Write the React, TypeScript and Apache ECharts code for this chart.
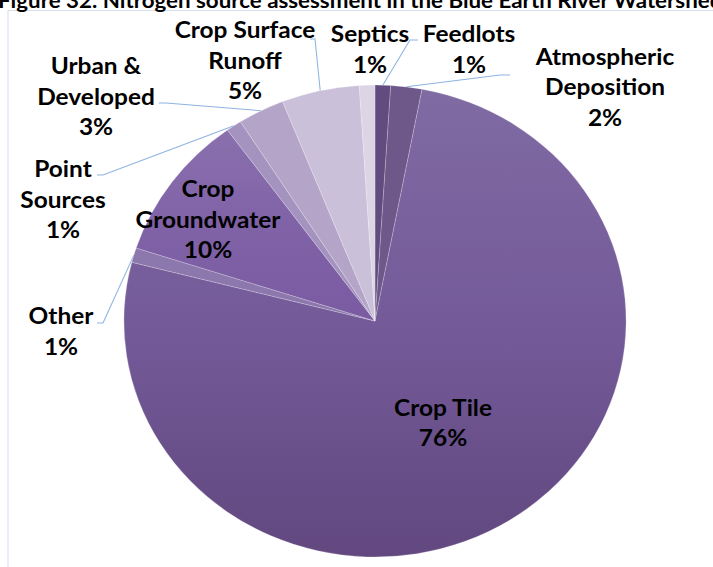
import { useEffect, useRef } from "react";
import * as echarts from "echarts";

// Nitrogen sources, listed clockwise from twelve o'clock
const sources = [
  "Feedlots",
  "Atmospheric\nDeposition",
  "Crop Tile",
  "Other",
  "Crop\nGroundwater",
  "Point\nSources",
  "Urban &\nDeveloped",
  "Crop Surface\nRunoff",
  "Septics",
];
const shares = [1, 2, 76, 1, 10, 1, 3, 5, 1];
const titleText =
  "Figure 32. Nitrogen source assessment in the Blue Earth River Watershed";

// The figure is drawn slightly wider than tall
const STRETCH = 1.064;
const PAGE_W = 713;
const PAGE_H = 567;
const CHART_W = PAGE_W / STRETCH;
const px = (x: number) => x / STRETCH;

const flat = (c: string) => c;
const vgrad = (top: string, mid: string, bottom: string) =>
  new echarts.graphic.LinearGradient(0, 0, 0, 1, [
    { offset: 0, color: top },
    { offset: 0.5, color: mid },
    { offset: 1, color: bottom },
  ]);

const sliceFill = [
  flat("#624c7f"),
  flat("#6d5889"),
  vgrad("#806ba3", "#745a99", "#62487f"),
  flat("#8d78ad"),
  vgrad("#8a70ae", "#8062a7", "#7a5ba2"),
  flat("#a593bf"),
  flat("#b4a5c8"),
  flat("#cac0d9"),
  flat("#dcd5e5"),
];

// Where each label sits (centre of its text block) and the elbow / end of its leader
type Placement = { cx: number; cy: number; inside?: boolean; leader?: number[][] };
const placement: Placement[] = [
  { cx: 469, cy: 49, leader: [[410, 40], [418, 40]] },
  { cx: 605, cy: 86.5, leader: [[500, 75], [510, 75]] },
  { cx: 443, cy: 422.5, inside: true },
  { cx: 61, cy: 331, leader: [[103, 323], [97, 323]] },
  { cx: 208, cy: 219, inside: true },
  { cx: 63, cy: 199, leader: [[103, 175], [97, 175]] },
  { cx: 96, cy: 96, leader: [[166, 103], [159, 103]] },
  { cx: 245, cy: 60, leader: [[315, 39], [310, 39]] },
  { cx: 370, cy: 49 },
];

export default function App() {
  const ref = useRef<HTMLDivElement>(null);

  useEffect(() => {
    if (!ref.current) return;
    const chart = echarts.init(ref.current, null, { renderer: "svg" });

    const data = sources.map((name, i) => {
      const p = placement[i];
      return {
        name,
        value: shares[i],
        itemStyle: { color: sliceFill[i] },
        label: { position: p.inside ? "inside" : "outside" },
        labelLine: { show: !!p.leader },
      };
    });

    chart.setOption({
      animation: false,
      backgroundColor: "#ffffff",
      graphic: [
        {
          type: "rect",
          silent: true,
          z: 0,
          shape: { x: px(8), y: 10.5, width: 1000, height: 1000 },
          style: { fill: "none", stroke: "#d5dfeb", lineWidth: 1 },
        },
        {
          type: "text",
          silent: true,
          x: px(-2),
          y: 0.5,
          style: {
            text: titleText,
            fill: "#000",
            font: "bold 21px Lato",
            verticalAlign: "middle",
            align: "left",
          },
        },
      ],
      series: [
        {
          type: "pie",
          center: [px(375), 321],
          radius: 236,
          startAngle: 90,
          clockwise: true,
          avoidLabelOverlap: false,
          silent: true,
          emphasis: { disabled: true },
          itemStyle: { borderColor: "rgba(255,255,255,0.35)", borderWidth: 0.6 },
          label: {
            show: true,
            formatter: "{b}\n{c}%",
            color: "#000",
            fontFamily: "Lato",
            fontWeight: "bold",
            fontSize: 23,
            lineHeight: 30.5,
            align: "center",
          },
          labelLine: {
            show: true,
            length: 10,
            length2: 10,
            smooth: false,
            lineStyle: { color: "#8db3e2", width: 1 },
          },
          labelLayout: (params: any) => {
            const p = placement[params.dataIndex];
            const out: any = {
              x: px(p.cx),
              y: p.cy,
              align: "center",
              verticalAlign: "middle",
            };
            if (p.leader && params.labelLinePoints) {
              const start = params.labelLinePoints[0];
              out.labelLinePoints = [
                [start[0], start[1]],
                [px(p.leader[0][0]), p.leader[0][1]],
                [px(p.leader[1][0]), p.leader[1][1]],
              ];
            }
            return out;
          },
          data,
        },
      ],
    });

    return () => chart.dispose();
  }, []);

  return (
    <div
      ref={ref}
      style={{
        position: "fixed",
        left: 0,
        top: 0,
        width: CHART_W,
        height: PAGE_H,
        transform: `scaleX(${STRETCH})`,
        transformOrigin: "0 0",
      }}
    />
  );
}
